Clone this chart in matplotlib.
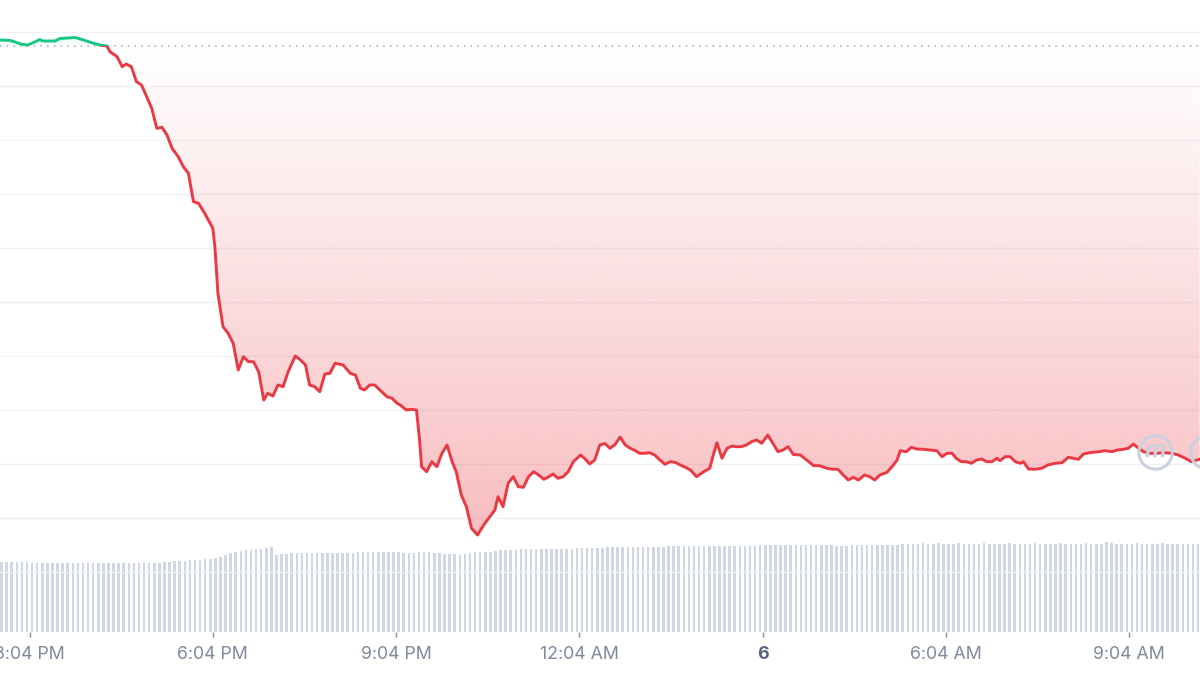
import numpy as np
import matplotlib
matplotlib.use("Agg")
import matplotlib.pyplot as plt
from matplotlib.colors import to_rgb
from matplotlib.patches import Rectangle
from matplotlib.path import Path

plt.rcParams['font.family'] = ['Inter', 'DejaVu Sans']

# Price trace: minutes after 14:35 and price
price_minutes = [
    0, 10, 15, 20, 27, 32, 39, 42, 49, 54,
    59, 66, 74, 79, 85, 91, 98, 105, 108, 115,
    120, 124, 129, 134, 139, 144, 149, 154, 159, 164,
    169, 175, 180, 185, 190, 195, 201, 209, 211, 214,
    219, 224, 229, 234, 239, 244, 249, 254, 259, 263,
    268, 273, 278, 283, 290, 295, 300, 304, 309, 314,
    319, 324, 329, 337, 344, 349, 354, 358, 363, 368,
    373, 380, 385, 390, 393, 399, 404, 409, 412, 414,
    419, 424, 429, 434, 439, 444, 448, 453, 458, 463,
    469, 475, 481, 486, 489, 494, 499, 504, 509, 514,
    519, 524, 529, 534, 538, 543, 548, 553, 558, 563,
    570, 574, 579, 584, 589, 594, 599, 604, 609, 614,
    619, 624, 628, 633, 638, 643, 648, 653, 658, 663,
    668, 673, 678, 684, 691, 697, 700, 704, 709, 714,
    719, 723, 728, 733, 738, 743, 748, 754, 759, 764,
    769, 774, 779, 786, 792, 799, 805, 812, 818, 823,
    828, 833, 838, 843, 849, 854, 859, 864, 871, 876,
    881, 884, 890, 895, 900, 907, 913, 920, 925, 930,
    935, 939, 944, 949, 954, 959, 964, 969, 974, 979,
    982, 987, 992, 997, 1002, 1005, 1010, 1016, 1023, 1029,
    1036, 1043, 1049, 1054, 1059, 1064, 1070, 1079, 1085, 1092,
    1097, 1103, 1108, 1113, 1118, 1123, 1129, 1136, 1144, 1151,
    1157, 1164, 1170, 1178,
]
price_values = [
    9.600, 9.595, 9.580, 9.560, 9.550, 9.570, 9.605, 9.590, 9.590, 9.590,
    9.615, 9.620, 9.625, 9.610, 9.590, 9.570, 9.550, 9.540, 9.483, 9.433,
    9.333, 9.360, 9.333, 9.183, 9.150, 9.033, 8.917, 8.717, 8.727, 8.650,
    8.517, 8.433, 8.333, 8.267, 7.983, 7.967, 7.867, 7.717, 7.533, 7.067,
    6.733, 6.667, 6.567, 6.300, 6.433, 6.383, 6.383, 6.283, 6.000, 6.067,
    6.040, 6.150, 6.133, 6.283, 6.440, 6.400, 6.350, 6.150, 6.133, 6.083,
    6.260, 6.267, 6.367, 6.350, 6.267, 6.250, 6.117, 6.100, 6.150, 6.150,
    6.100, 6.033, 6.017, 5.967, 5.950, 5.900, 5.907, 5.900, 5.600, 5.333,
    5.283, 5.383, 5.333, 5.467, 5.550, 5.383, 5.283, 5.050, 4.933, 4.717,
    4.650, 4.750, 4.833, 4.900, 5.033, 4.933, 5.167, 5.233, 5.133, 5.127,
    5.233, 5.283, 5.250, 5.207, 5.227, 5.260, 5.217, 5.233, 5.283, 5.383,
    5.450, 5.417, 5.360, 5.400, 5.550, 5.565, 5.517, 5.555, 5.630, 5.550,
    5.517, 5.493, 5.467, 5.467, 5.473, 5.450, 5.400, 5.357, 5.383, 5.377,
    5.350, 5.327, 5.300, 5.233, 5.283, 5.317, 5.433, 5.573, 5.417, 5.517,
    5.540, 5.533, 5.533, 5.550, 5.583, 5.600, 5.567, 5.650, 5.567, 5.483,
    5.500, 5.533, 5.455, 5.450, 5.400, 5.343, 5.343, 5.317, 5.307, 5.307,
    5.250, 5.200, 5.227, 5.200, 5.250, 5.233, 5.200, 5.250, 5.277, 5.333,
    5.400, 5.493, 5.483, 5.527, 5.510, 5.507, 5.500, 5.493, 5.433, 5.467,
    5.467, 5.417, 5.383, 5.383, 5.367, 5.400, 5.410, 5.383, 5.383, 5.417,
    5.393, 5.433, 5.433, 5.383, 5.367, 5.383, 5.310, 5.307, 5.317, 5.350,
    5.367, 5.373, 5.427, 5.417, 5.407, 5.460, 5.473, 5.483, 5.493, 5.483,
    5.500, 5.507, 5.517, 5.560, 5.517, 5.483, 5.467, 5.467, 5.473, 5.467,
    5.450, 5.417, 5.383, 5.407,
]

# Volume, one bar every 5 minutes from 14:35
volume_values = [
    7.0, 7.0, 7.0, 7.0, 7.0, 7.0,
    6.9, 6.9, 6.9, 6.95, 6.9, 6.9, 6.9, 6.9, 6.9, 6.9, 6.9, 6.9, 6.9,
    6.9, 6.9, 6.9, 6.9, 6.9, 6.9, 6.9, 6.9, 6.9, 6.9, 6.95, 6.95, 6.95,
    7.0, 7.05, 7.1, 7.1, 7.15, 7.2, 7.2, 7.25, 7.3, 7.35, 7.4,
    7.5, 7.7, 7.9, 8.0, 8.1, 8.2, 8.2, 8.3, 8.3, 8.4, 8.5,
    7.7,
    7.8, 7.85, 7.9, 7.9, 7.9, 7.9, 7.9, 7.9, 7.95, 7.95, 7.95, 7.95,
    7.95, 7.95, 7.95, 8.0, 8.0, 8.0, 8.0, 8.0, 8.05, 8.05, 8.05, 8.05,
    7.95, 7.95, 7.95, 8.0, 8.0, 8.0, 7.95, 7.9, 7.85, 7.85, 7.8,
    7.75,
    7.8, 7.9, 8.0, 8.0, 8.05, 8.05, 8.1,
    8.25, 8.25, 8.25, 8.25, 8.3, 8.3, 8.3, 8.3, 8.3, 8.3, 8.3, 8.3, 8.3, 8.3, 8.35,
    8.45, 8.45, 8.45, 8.45, 8.45, 8.45, 8.5, 8.5, 8.5, 8.5, 8.5, 8.5,
    8.5, 8.5, 8.5, 8.5, 8.55, 8.55,
    8.6, 8.6, 8.6, 8.6, 8.6, 8.65, 8.65, 8.65, 8.65, 8.65,
    8.65, 8.65, 8.65, 8.65, 8.65, 8.65, 8.65, 8.65, 8.7, 8.7,
    8.7, 8.7, 8.7, 8.7, 8.7, 8.7, 8.7, 8.7, 8.7, 8.7, 8.7, 8.7, 8.7,
    8.6, 8.6, 8.65,
    8.7, 8.7, 8.7, 8.7, 8.7, 8.7, 8.7, 8.7, 8.75, 8.75, 8.8, 8.85,
    8.85, 8.85, 8.9, 8.85, 8.85, 8.9, 8.85, 8.85, 8.85, 8.9, 8.85, 8.85, 8.85,
    8.85, 8.9, 8.85, 8.85, 8.85, 8.85, 8.9, 8.85, 8.85, 8.85, 8.85, 8.9, 8.85,
    8.85, 8.85, 8.85, 8.9, 8.85, 8.85, 8.85, 8.85, 8.9, 8.85, 8.85, 8.85,
    9.0,
    8.9, 8.85, 8.85, 8.85, 8.85, 8.9, 8.85, 8.85, 8.85, 8.85, 8.9, 8.85,
    8.85, 8.85, 8.85, 8.85, 8.85, 8.85,
]

open_price = 9.54
tick_minutes = [29, 209, 389, 569, 749, 929, 1109]
tick_labels = ['3:04 PM', '6:04 PM', '9:04 PM', '12:04 AM', '6', '6:04 AM', '9:04 AM']

UP = '#16c784'
DOWN = '#ea3943'
VOL = '#cfd6e4'
GRID = '#eff2f5'
LABEL = '#808a9d'

X_END = 1178.4
grid_levels = [9.68 - 0.54 * k for k in range(11)]

fig = plt.figure(figsize=(12, 6.75), dpi=100)
ax_vol = fig.add_axes([0, 43 / 675, 1, 632 / 675])
ax = fig.add_axes([0, 40 / 675, 1, 635 / 675])
ax.patch.set_alpha(0)

# volume bars
vol_t = np.arange(len(volume_values)) * 5 + 1.5
ax_vol.bar(vol_t, volume_values, width=2.5, color=VOL, linewidth=0)
ax_vol.set_xlim(0, X_END)
ax_vol.set_ylim(0, 63.2)
for s in ax_vol.spines.values():
    s.set_visible(False)
ax_vol.set_yticks([])
ax_vol.set_xticks(tick_minutes, tick_labels)
ax_vol.tick_params(axis='x', length=3.6, width=1, color='#858ca2', pad=6.5,
                   labelsize=12.8, labelcolor=LABEL)
day_lbl = ax_vol.get_xticklabels()[4]
day_lbl.set_fontweight('bold')
day_lbl.set_color('#58667e')

t = np.array(price_minutes, dtype=float)
p = np.array(price_values)

for lvl in grid_levels:
    ax.axhline(lvl, color=GRID, lw=1, zorder=0)
ax.axhline(open_price, color='#a1a7bb', lw=1.1, ls=(0, (1, 3.4)), zorder=2)

# gradient fills under / over the open price
poly_dn = ax.fill_between(t, p, open_price, where=p <= open_price, interpolate=True,
                          facecolor='none', edgecolor='none')
path_dn = Path.make_compound_path(*poly_dn.get_paths())
grad = np.zeros((256, 1, 4))
grad[..., :3] = to_rgb(DOWN)
grad[:, 0, 3] = np.linspace(0.33, 0.0, 256)
im = ax.imshow(grad, extent=[0, X_END, p.min(), open_price], origin='lower',
               aspect='auto', zorder=1, interpolation='bilinear')
im.set_clip_path(path_dn, transform=ax.transData)

poly_up = ax.fill_between(t, p, open_price, where=p >= open_price, interpolate=True,
                          facecolor='none', edgecolor='none')
path_up = Path.make_compound_path(*poly_up.get_paths())
grad_up = np.zeros((64, 1, 4))
grad_up[..., :3] = to_rgb(UP)
grad_up[:, 0, 3] = np.linspace(0.0, 0.12, 64)
im_up = ax.imshow(grad_up, extent=[0, X_END, open_price, p.max()], origin='lower',
                  aspect='auto', zorder=1, interpolation='bilinear')
im_up.set_clip_path(path_up, transform=ax.transData)

# price line, green above open and red below
ln_dn, = ax.plot(t, p, color=DOWN, lw=2.1, zorder=3, solid_joinstyle='round')
ln_dn.set_clip_path(Rectangle((0, 0), X_END, open_price, transform=ax.transData))
ln_up, = ax.plot(t, p, color=UP, lw=2.1, zorder=3, solid_joinstyle='round')
ln_up.set_clip_path(Rectangle((0, open_price), X_END, 10, transform=ax.transData))

# watermark
wm = '#c9d1de'
ax.plot([0.9625], [0.288], 'o', ms=24, mfc='none', mec=wm, mew=2.2,
        transform=ax.transAxes, zorder=4)
ax.text(0.9625, 0.290, 'm', transform=ax.transAxes, fontsize=17, style='italic',
        fontweight='bold', color=wm, ha='center', va='center', zorder=4)
ax.plot([1.006], [0.288], 'o', ms=24, mfc='none', mec=wm, mew=2.2,
        transform=ax.transAxes, zorder=4, clip_on=False)

ax.set_xlim(0, X_END)
ax.set_ylim(3.65, 10.0)
ax.axis('off')

fig.savefig('out.png', dpi=100)
